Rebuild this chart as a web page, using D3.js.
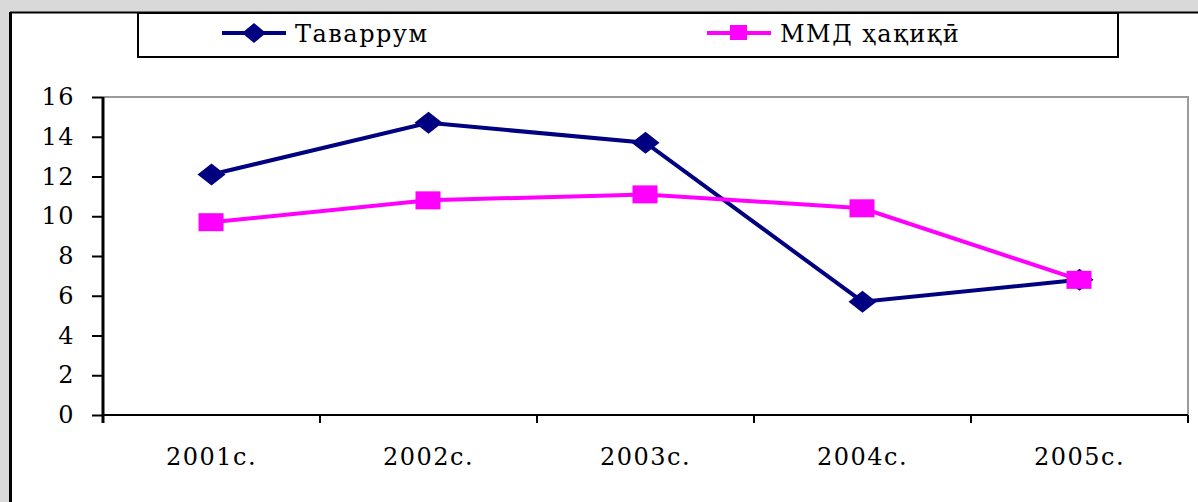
<html>

<head>
    <script src="https://cdnjs.cloudflare.com/ajax/libs/d3/7.8.5/d3.min.js"></script>
    <style>
        body { margin: 0; background: #d9d9d9; }
        text { font-family: "DejaVu Serif", serif; letter-spacing: 1.5px; fill: #000; }
    </style>
</head>

<body>
    <script>
        var years = ["2001с.", "2002с.", "2003с.", "2004с.", "2005с."];
        var tavarrum = [12.1, 14.7, 13.7, 5.7, 6.8];
        var mmd = [9.7, 10.8, 11.1, 10.4, 6.8];
        var yTicks = [0, 2, 4, 6, 8, 10, 12, 14, 16];
        var seriesNames = ["Таваррум", "ММД ҳақиқӣ"];

        var w = 1198, h = 502;
        var pLeft = 103, pRight = 1188, pTop = 97, pBottom = 415;

        var svg = d3.select("body").append("svg")
            .attr("width", w)
            .attr("height", h)
            .style("display", "block");

        // outer white frame, cut at the right and bottom edges
        svg.append("rect")
            .attr("x", 10).attr("y", 12)
            .attr("width", w + 20).attr("height", h + 20)
            .attr("fill", "#fff");
        svg.append("line").attr("x1", 10).attr("x2", w).attr("y1", 12.5).attr("y2", 12.5)
            .attr("stroke", "#000").attr("stroke-width", 2);
        svg.append("line").attr("x1", 10.5).attr("x2", 10.5).attr("y1", 12).attr("y2", h)
            .attr("stroke", "#000").attr("stroke-width", 3);

        // legend
        svg.append("rect")
            .attr("x", 138).attr("y", 13)
            .attr("width", 980).attr("height", 44)
            .attr("fill", "#fff")
            .attr("stroke", "#000").attr("stroke-width", 2);

        var x = d3.scaleBand().domain(years).range([pLeft, pRight]).padding(0);
        var y = d3.scaleLinear().domain([0, 16]).range([pBottom, pTop]);
        var cx = function (d, i) { return x(years[i]) + x.bandwidth() / 2; };

        // plot area border (top and right, grey)
        svg.append("path")
            .attr("d", "M" + pLeft + "," + pTop + "H" + pRight + "V" + pBottom)
            .attr("fill", "none")
            .attr("stroke", "#9a9a9a").attr("stroke-width", 2);

        // y axis
        var yAxis = svg.append("g")
            .attr("transform", "translate(" + pLeft + ",0)")
            .call(d3.axisLeft(y).tickValues(yTicks).tickSize(11).tickPadding(17).tickSizeOuter(0));
        yAxis.select(".domain").remove();
        yAxis.selectAll("line").attr("stroke", "#000").attr("stroke-width", 2);
        yAxis.selectAll("text").style("font-size", "24px").attr("fill", "#000");
        svg.append("line").attr("x1", pLeft).attr("x2", pLeft).attr("y1", pTop).attr("y2", pBottom + 8)
            .attr("stroke", "#000").attr("stroke-width", 3);

        // x axis
        var xAxis = svg.append("g")
            .attr("transform", "translate(0," + pBottom + ")")
            .call(d3.axisBottom(x).tickSize(0).tickPadding(33));
        xAxis.select(".domain").remove();
        xAxis.selectAll("text").style("font-size", "24px").attr("fill", "#000");
        svg.append("line").attr("x1", pLeft).attr("x2", pRight).attr("y1", pBottom).attr("y2", pBottom)
            .attr("stroke", "#000").attr("stroke-width", 2);
        svg.selectAll(".xtick")
            .data(years.map(function (d) { return x(d); }).concat([pRight]))
            .enter().append("line")
            .attr("class", "xtick")
            .attr("x1", function (d) { return d; }).attr("x2", function (d) { return d; })
            .attr("y1", pBottom).attr("y2", pBottom + 8)
            .attr("stroke", "#000").attr("stroke-width", 2);

        var line = d3.line().x(cx).y(function (d) { return y(d); });

        // Таваррум
        svg.append("path").datum(tavarrum)
            .attr("d", line).attr("fill", "none")
            .attr("stroke", "#000080").attr("stroke-width", 4);
        svg.selectAll(".dia").data(tavarrum).enter().append("path")
            .attr("class", "dia")
            .attr("d", function (d, i) {
                var px = cx(d, i), py = y(d);
                return "M" + (px - 14) + "," + py + "L" + px + "," + (py - 11) + "L" + (px + 14) + "," + py + "L" + px + "," + (py + 11) + "Z";
            })
            .attr("fill", "#000080");

        // ММД ҳақиқӣ
        svg.append("path").datum(mmd)
            .attr("d", line).attr("fill", "none")
            .attr("stroke", "#ff00ff").attr("stroke-width", 4);
        svg.selectAll(".sq").data(mmd).enter().append("rect")
            .attr("class", "sq")
            .attr("x", function (d, i) { return cx(d, i) - 13; })
            .attr("y", function (d) { return y(d) - 9; })
            .attr("width", 25).attr("height", 18)
            .attr("fill", "#ff00ff");

        // legend entries
        var lg = svg.append("g");
        lg.append("line").attr("x1", 222).attr("x2", 286).attr("y1", 33).attr("y2", 33)
            .attr("stroke", "#000080").attr("stroke-width", 4);
        lg.append("path").attr("d", "M242,33L254,23L266,33L254,43Z").attr("fill", "#000080");
        lg.append("text").attr("x", 295).attr("y", 42).style("font-size", "24px").text(seriesNames[0]);

        lg.append("line").attr("x1", 707).attr("x2", 771).attr("y1", 33).attr("y2", 33)
            .attr("stroke", "#ff00ff").attr("stroke-width", 4);
        lg.append("rect").attr("x", 730).attr("y", 25).attr("width", 17).attr("height", 15).attr("fill", "#ff00ff");
        lg.append("text").attr("x", 780).attr("y", 42).style("font-size", "24px").text(seriesNames[1]);
    </script>
</body>

</html>
